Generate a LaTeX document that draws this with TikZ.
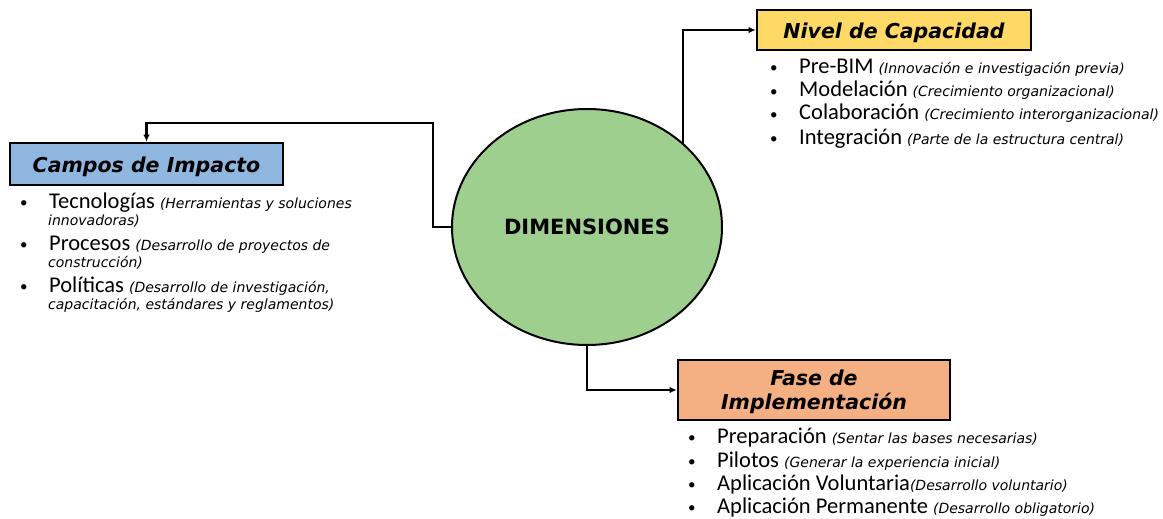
\documentclass[tikz,border=0pt]{standalone}
\usepackage{fontspec}
\setmainfont{Carlito}
\newfontfamily\vera{DejaVu Sans}
\usetikzlibrary{arrows.meta,shapes.geometric}
\definecolor{cblue}{HTML}{8FB7E0}
\definecolor{cyellow}{HTML}{FFD966}
\definecolor{csalmon}{HTML}{F4AF82}
\definecolor{cgreen}{HTML}{9ECF8E}
\newcommand\parnote[1]{{\vera\itshape\fontsize{14}{16}\selectfont #1}}
\newcommand\bul{\makebox[29pt][l]{\raisebox{1pt}{\fontsize{15}{16}\selectfont\textbullet}}}
\tikzset{
  titlebox/.style={draw=black, line width=2.6pt, inner sep=0pt, align=center,
    font=\vera\bfseries\itshape\fontsize{20.5}{24}\selectfont},
  item/.style={anchor=base west, inner sep=0pt, font=\fontsize{22.5}{24}\selectfont},
  cont/.style={anchor=base west, inner sep=0pt},
  conn/.style={draw=black, line width=2.3pt},
  arr/.style={conn, -{Latex[length=7pt,width=6.5pt]}},
}
\begin{document}
\begin{tikzpicture}[x=1pt,y=-1pt]
\useasboundingbox (0,0) rectangle (1163,519);
% central ellipse
\node[ellipse, draw=black, line width=2pt, fill=cgreen, minimum width=270pt, minimum height=236pt, inner sep=0pt,
  font=\vera\bfseries\fontsize{21}{24}\selectfont] (ell) at (587,227) {DIMENSIONES};
% title boxes
\node[titlebox, fill=cblue, minimum width=273pt, minimum height=42pt] (camp) at (146.5,164) {\raisebox{-8.5pt}[0pt][0pt]{Campos de Impacto}};
\node[titlebox, fill=cyellow, minimum width=274pt, minimum height=40pt] (niv) at (894,30) {\raisebox{-8.5pt}[0pt][0pt]{Nivel de Capacidad}};
\node[titlebox, fill=csalmon, minimum width=272pt, minimum height=60pt] (fase) at (814,390) {\raisebox{-8pt}[0pt][0pt]{\begin{tabular}{@{}c@{}}Fase de\\Implementación\end{tabular}}};
% connectors
\coordinate (c1) at (433,123);
\draw[arr] (ell.west) -| (c1) -| (camp.north);
\coordinate (n0) at (683,144);
\draw[arr] (n0) |- (niv.west);
\draw[arr] (ell.south) |- (fase.west);
% Campos list
\node[item] (t1) at (20,208) {\bul Tecnologías \parnote{(Herramientas y soluciones}};
\node[cont] (t1b) at (48,225) {\parnote{innovadoras)}};
\node[item] (t2) at (20,250) {\bul Procesos \parnote{(Desarrollo de proyectos de}};
\node[cont] (t2b) at (48,267) {\parnote{construcción)}};
\node[item] (t3) at (20,292) {\bul Políticas \parnote{(Desarrollo de investigación,}};
\node[cont] (t3b) at (48,309) {\parnote{capacitación, estándares y reglamentos)}};
% Nivel list
\node[item] (n1) at (770,74) {\bul Pre-BIM \parnote{(Innovación e investigación previa)}};
\node[item] (n2) at (770,97) {\bul Modelación \parnote{(Crecimiento organizacional)}};
\node[item] (n3) at (770,120) {\bul Colaboración \parnote{(Crecimiento interorganizacional)}};
\node[item] (n4) at (770,144) {\bul Integración \parnote{(Parte de la estructura central)}};
% Fase list
\node[item] (f1) at (688,443) {\bul Preparación \parnote{(Sentar las bases necesarias)}};
\node[item] (f2) at (688,467) {\bul Pilotos \parnote{(Generar la experiencia inicial)}};
\node[item] (f3) at (688,490) {\bul Aplicación Voluntaria\parnote{(Desarrollo voluntario)}};
\node[item] (f4) at (688,513) {\bul Aplicación Permanente \parnote{(Desarrollo obligatorio)}};
\end{tikzpicture}
\end{document}
